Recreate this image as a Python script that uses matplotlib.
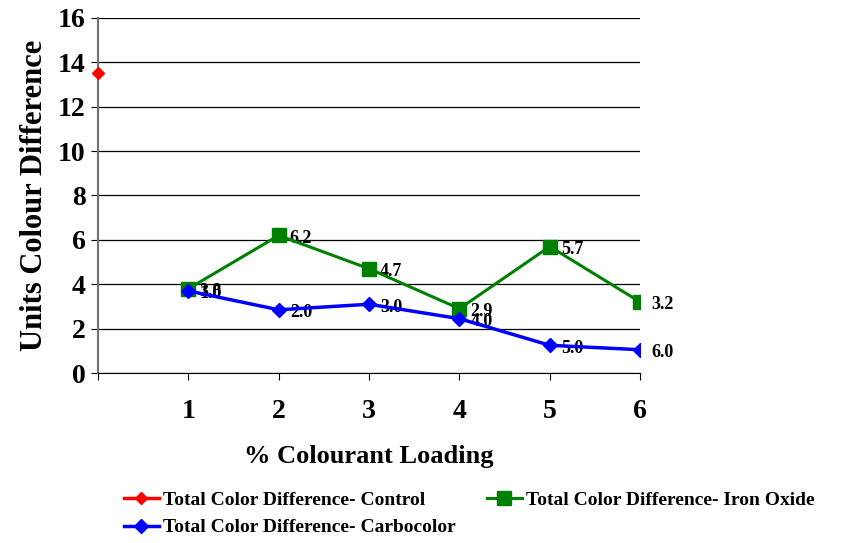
import matplotlib.pyplot as plt
import numpy as np

plt.rcParams["font.family"] = ["Liberation Serif", "DejaVu Serif"]
plt.rcParams["font.weight"] = "bold"

loading = [1, 2, 3, 4, 5, 6]
tick_labels = ["", "1", "2", "3", "4", "5", "6"]
control_x = [0]
control_y = [13.5]
iron_oxide = [3.8, 6.2, 4.7, 2.9, 5.7, 3.2]
carbocolor = [3.7, 2.85, 3.1, 2.45, 1.25, 1.05]
carbo_labels = ["1.0", "2.0", "3.0", "4.0", "5.0", "6.0"]

fig = plt.figure(figsize=(8.51, 5.43), dpi=100)
ax = fig.add_axes([0.1152, 0.313, 0.637, 0.654])

l_ctrl, = ax.plot(control_x, control_y, color="red", marker="D", markersize=6,
                  linewidth=2.5, label="Total Color Difference- Control", clip_on=False, zorder=5)
l_iron, = ax.plot(loading, iron_oxide, color="green", marker="s", markersize=10,
                  linewidth=2.2, label="Total Color Difference- Iron Oxide", zorder=4)
l_carb, = ax.plot(loading, carbocolor, color="blue", marker="D", markersize=7,
                  linewidth=2.5, label="Total Color Difference- Carbocolor", zorder=4)

for x, y in zip(loading, iron_oxide):
    ax.annotate(f"{y:.1f}", (x, y), xytext=(8, -2), textcoords="offset points",
                ha="left", va="center", fontsize=13, fontweight="bold")
for x, y, t in zip(loading, carbocolor, carbo_labels):
    ax.annotate(t, (x, y), xytext=(8, -2), textcoords="offset points",
                ha="left", va="center", fontsize=13, fontweight="bold")

ax.set_xlim(0, 6)
ax.set_ylim(0, 16)
ax.set_xticks(np.arange(0, 7))
ax.set_xticklabels(tick_labels)
ax.set_yticks(np.arange(0, 17, 2))
ax.tick_params(axis="x", length=5, pad=14, labelsize=20)
ax.tick_params(axis="y", length=5, pad=4, labelsize=20)
for lab in ax.get_xticklabels() + ax.get_yticklabels():
    lab.set_fontweight("bold")

ax.yaxis.grid(True, color="black", linewidth=0.9)
ax.set_axisbelow(True)
for side in ["top", "right"]:
    ax.spines[side].set_visible(False)
ax.spines["left"].set_color("#707070")
ax.spines["left"].set_linewidth(1.5)
ax.spines["bottom"].set_color("black")

ax.set_xlabel("% Colourant Loading", fontsize=19, fontweight="bold", labelpad=15)
ax.set_ylabel("Units Colour Difference", fontsize=22, fontweight="bold", labelpad=6)

fig.legend([l_ctrl, l_carb, l_iron],
           [l_ctrl.get_label(), l_carb.get_label(), l_iron.get_label()],
           loc="lower left", bbox_to_anchor=(0.125, -0.02), ncol=2,
           frameon=False, prop={"size": 14, "weight": "bold"},
           handlelength=1.8, handletextpad=0.2, columnspacing=1.6, labelspacing=0.5)

fig.savefig("out.png", dpi=100)
